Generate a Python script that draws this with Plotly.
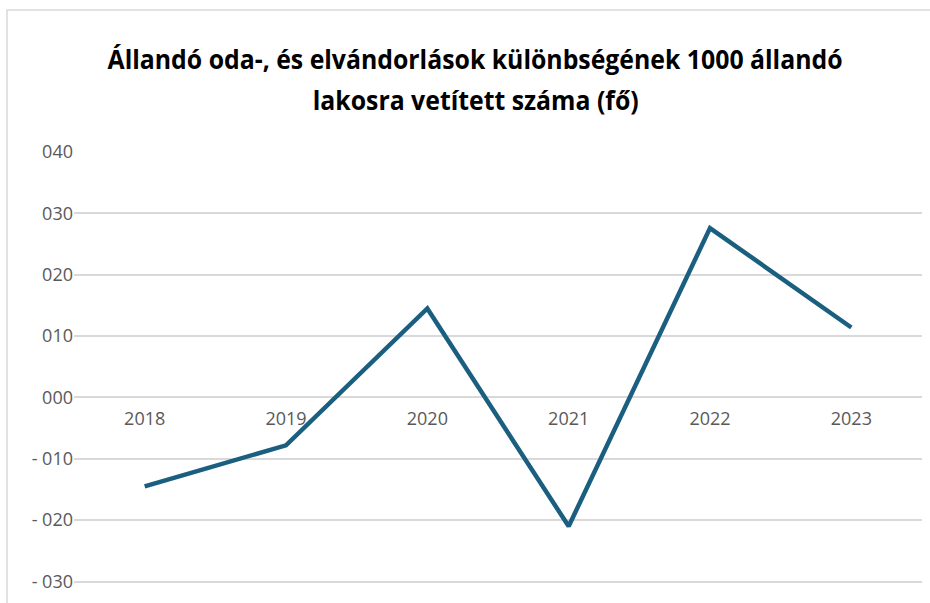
import plotly.graph_objects as go

years = ["2018", "2019", "2020", "2021", "2022", "2023"]
values = [-14.5, -7.8, 14.5, -21.0, 27.6, 11.4]
y_tickvals = [40, 30, 20, 10, 0, -10, -20, -30]
y_ticktext = ["040", "030", "020", "010", "000", "- 010", "- 020", "- 030"]
title_lines = ["Állandó oda-, és elvándorlások különbségének 1000 állandó",
               "lakosra vetített száma (fő)"]

W, H = 930, 603
L, R, T, B = 74, 8, 152, 0
ymin, ymax = -33.5, 40
pw, ph = W - L - R, H - T - B

fig = go.Figure()
fig.add_trace(go.Scatter(
    x=years, y=values, mode="lines",
    line=dict(color="#1B5F80", width=4.5),
    hoverinfo="x+y", showlegend=False,
))

zero_pos = (0 - ymin) / (ymax - ymin)

annotations = []
for i, (txt, yc) in enumerate(zip(title_lines, [59, 100])):
    annotations.append(dict(
        text="<b>" + txt + "</b>", xref="paper", yref="paper",
        x=(475 - L) / pw, y=(H - B - yc) / ph, xanchor="center", yanchor="middle",
        showarrow=False,
        font=dict(family="Open Sans", size=26, color="black"),
    ))

fig.update_layout(
    width=W, height=H,
    margin=dict(l=L, r=R, t=T, b=B),
    paper_bgcolor="white", plot_bgcolor="white",
    font=dict(family="Open Sans", color="#595959", size=18),
    annotations=annotations,
    xaxis=dict(
        type="category", range=[-0.5, 5.5],
        showgrid=False, showline=False, zeroline=False,
        anchor="free", position=zero_pos,
        ticks="", ticklabelstandoff=9,
        tickfont=dict(size=18, color="#595959"),
    ),
    yaxis=dict(
        range=[ymin, ymax],
        tickvals=y_tickvals, ticktext=y_ticktext,
        showgrid=True, gridcolor="#D9D9D9", gridwidth=1.5,
        zeroline=False, showline=False, ticks="",
        tickfont=dict(size=18, color="#595959"),
    ),
    shapes=[dict(
        type="rect", xref="paper", yref="paper",
        x0=(7 - L) / pw, x1=1.2, y0=-0.2, y1=(H - 10 - B) / ph,
        line=dict(color="#D9D9D9", width=1.5), fillcolor="rgba(0,0,0,0)",
        layer="below",
    )],
)

fig.write_html(
    "out.html",
    config={"displayModeBar": False},
    post_script=(
        "document.body.style.margin='0';document.body.style.overflow='hidden';"
        "document.querySelectorAll('.annotation-text').forEach(function(e){"
        "e.style.transformBox='fill-box';e.style.transformOrigin='center';"
        "e.style.transform='scaleX(0.955)';});"
    ),
)
